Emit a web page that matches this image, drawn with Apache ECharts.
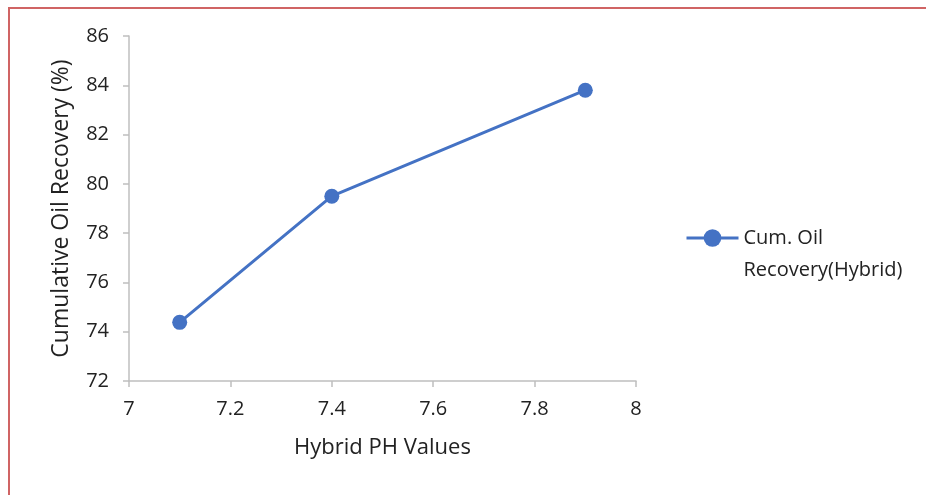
<!DOCTYPE html>
<html>
<head>
<meta charset="utf-8">
<script src="https://cdn.jsdelivr.net/npm/echarts@6/dist/echarts.min.js"></script>
<style>
html,body{margin:0;padding:0;background:#fff;}
#c{width:926px;height:495px;}
</style>
</head>
<body>
<div id="c"></div>
<script>
const phValues = [7.1, 7.4, 7.9];
const recovery = [74.38, 79.5, 83.8];
const seriesName = 'Cum. Oil\nRecovery(Hybrid)';
const xTitle = 'Hybrid PH Values';
const yTitle = 'Cumulative Oil Recovery (%)';

const chart = echarts.init(document.getElementById('c'));
const font = "'Open Sans', sans-serif";
chart.setOption({
  backgroundColor: '#ffffff',
  animation: false,
  graphic: [
    {type: 'line', shape: {x1: 9, y1: 8, x2: 926, y2: 8}, style: {stroke: '#d06464', lineWidth: 2}},
    {type: 'line', shape: {x1: 9, y1: 7, x2: 9, y2: 495}, style: {stroke: '#d06464', lineWidth: 2}}
  ],
  grid: {left: 129, right: 290, top: 36, bottom: 114},
  legend: {
    left: 680, top: 185, orient: 'vertical',
    itemWidth: 52, itemHeight: 22, itemGap: 0,
    formatter: n => ' \n' + n,
    lineStyle: {width: 3},
    textStyle: {fontFamily: font, fontSize: 20, color: '#222', lineHeight: 32},
    data: [seriesName]
  },
  xAxis: {
    type: 'value', min: 7, max: 8, interval: 0.2,
    name: xTitle, nameLocation: 'middle', nameGap: 56,
    nameTextStyle: {fontFamily: font, fontSize: 22, color: '#222'},
    axisLine: {lineStyle: {color: '#bfbfbf', width: 1.5}},
    axisTick: {show: true, length: 6, lineStyle: {color: '#bfbfbf', width: 1.5}},
    splitLine: {show: false},
    axisLabel: {fontFamily: font, fontSize: 20, color: '#222', margin: 18}
  },
  yAxis: {
    type: 'value', min: 72, max: 86, interval: 2,
    name: yTitle, nameLocation: 'middle', nameGap: 56,
    nameTextStyle: {fontFamily: font, fontSize: 23, color: '#222'},
    axisLine: {show: true, lineStyle: {color: '#bfbfbf', width: 1.5}},
    axisTick: {show: true, length: 6, lineStyle: {color: '#bfbfbf', width: 1.5}},
    splitLine: {show: false},
    axisLabel: {fontFamily: font, fontSize: 20, color: '#222', margin: 20}
  },
  series: [{
    name: seriesName,
    type: 'line',
    data: phValues.map((x, i) => [x, recovery[i]]),
    symbol: 'circle', symbolSize: 15,
    lineStyle: {color: '#4472c4', width: 3},
    itemStyle: {color: '#4472c4'}
  }]
});
</script>
</body>
</html>
